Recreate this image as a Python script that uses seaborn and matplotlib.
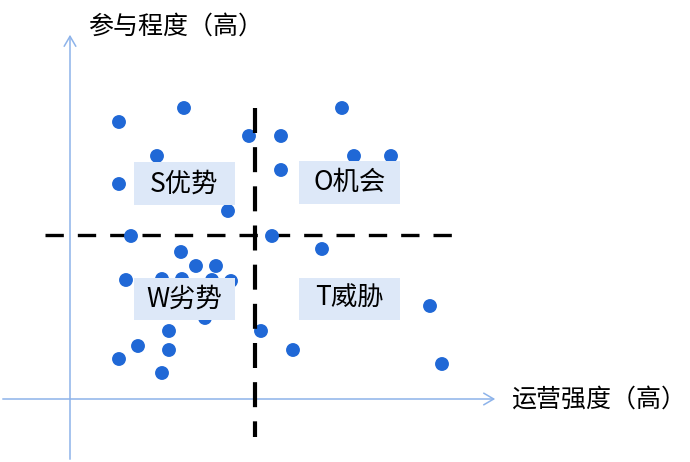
import matplotlib
matplotlib.use("Agg")
import matplotlib.pyplot as plt
from matplotlib.patches import Rectangle
import seaborn as sns
import pandas as pd

# ---- data (运营强度 x, 参与程度 y) ----
s_x = [4.9, 11.4, 8.7, 4.9, 17.9, 15.8, 6.1]
s_y = [27.7, 29.1, 24.3, 21.5, 26.3, 18.8, 16.3]
o_x = [21.1, 27.2, 28.4, 32.1, 21.1, 20.2, 25.2]
o_y = [26.3, 29.1, 24.3, 24.3, 22.9, 16.3, 15.0]
w_x = [11.1, 12.6, 14.6, 5.6, 9.2, 11.2, 14.2, 16.1, 13.5, 9.9, 6.8, 9.9, 4.9, 9.2]
w_y = [14.7, 13.3, 13.3, 11.9, 12.0, 12.0, 11.9, 11.8, 8.1, 6.8, 5.3, 4.9, 4.0, 2.6]
t_x = [19.1, 22.3, 36.0, 37.2]
t_y = [6.8, 4.9, 9.3, 3.5]

x_split = 18.5
y_split = 16.4

quad_labels = ["S优势", "O机会", "W劣势", "T威胁"]
x_axis_label = "运营强度（高）"
y_axis_label = "参与程度（高）"

df = pd.DataFrame({
    "x": s_x + o_x + w_x + t_x,
    "y": s_y + o_y + w_y + t_y,
})

sns.set_theme(style="white")
plt.rcParams["font.family"] = ["Noto Sans CJK SC", "DejaVu Sans"]

fig = plt.figure(figsize=(6.9, 4.62), dpi=100)
ax = fig.add_axes([0, 0, 1, 1])
ax.set_xlim(-7, 62)
ax.set_ylim(-6.3, 39.9)
ax.set_axis_off()

axis_color = "#8db3ea"
# axes with arrows
ax.annotate("", xy=(42.8, 0), xytext=(-7, 0),
            arrowprops=dict(arrowstyle="->,head_length=0.6,head_width=0.35",
                            color=axis_color, lw=1.1), zorder=1)
ax.annotate("", xy=(0, 36.7), xytext=(0, -6.3),
            arrowprops=dict(arrowstyle="->,head_length=0.6,head_width=0.35",
                            color=axis_color, lw=1.1), zorder=1)

# dashed split lines
ax.plot([-2.5, 38.5], [y_split, y_split], color="black", lw=2.4,
        dashes=(5.5, 4.2), zorder=2)

sns.scatterplot(data=df, x="x", y="y", ax=ax, color="#2068d6", s=100,
                edgecolor="none", zorder=3, legend=False)

ax.plot([x_split, x_split], [29.1, -3.8], color="black", lw=3.0,
        dashes=(6.0, 3.4), zorder=4)

# quadrant label boxes
box_color = "#dde8f8"
boxes = [(6.4, 19.4), (22.9, 19.5), (6.4, 7.9), (22.9, 7.9)]
bw, bh = 10.1, 4.25
for (bx, by), lab in zip(boxes, quad_labels):
    ax.add_patch(Rectangle((bx, by), bw, bh, facecolor=box_color,
                           edgecolor="none", zorder=5))
    ax.text(bx + bw / 2, by + bh / 2, lab, ha="center", va="center",
            fontsize=19, color="black", zorder=6)

ax.text(1.8, 37.2, y_axis_label, ha="left", va="center", fontsize=18, color="black")
ax.text(44.1, -0.1, x_axis_label, ha="left", va="center", fontsize=18, color="black")

fig.savefig("out.png", dpi=100)
